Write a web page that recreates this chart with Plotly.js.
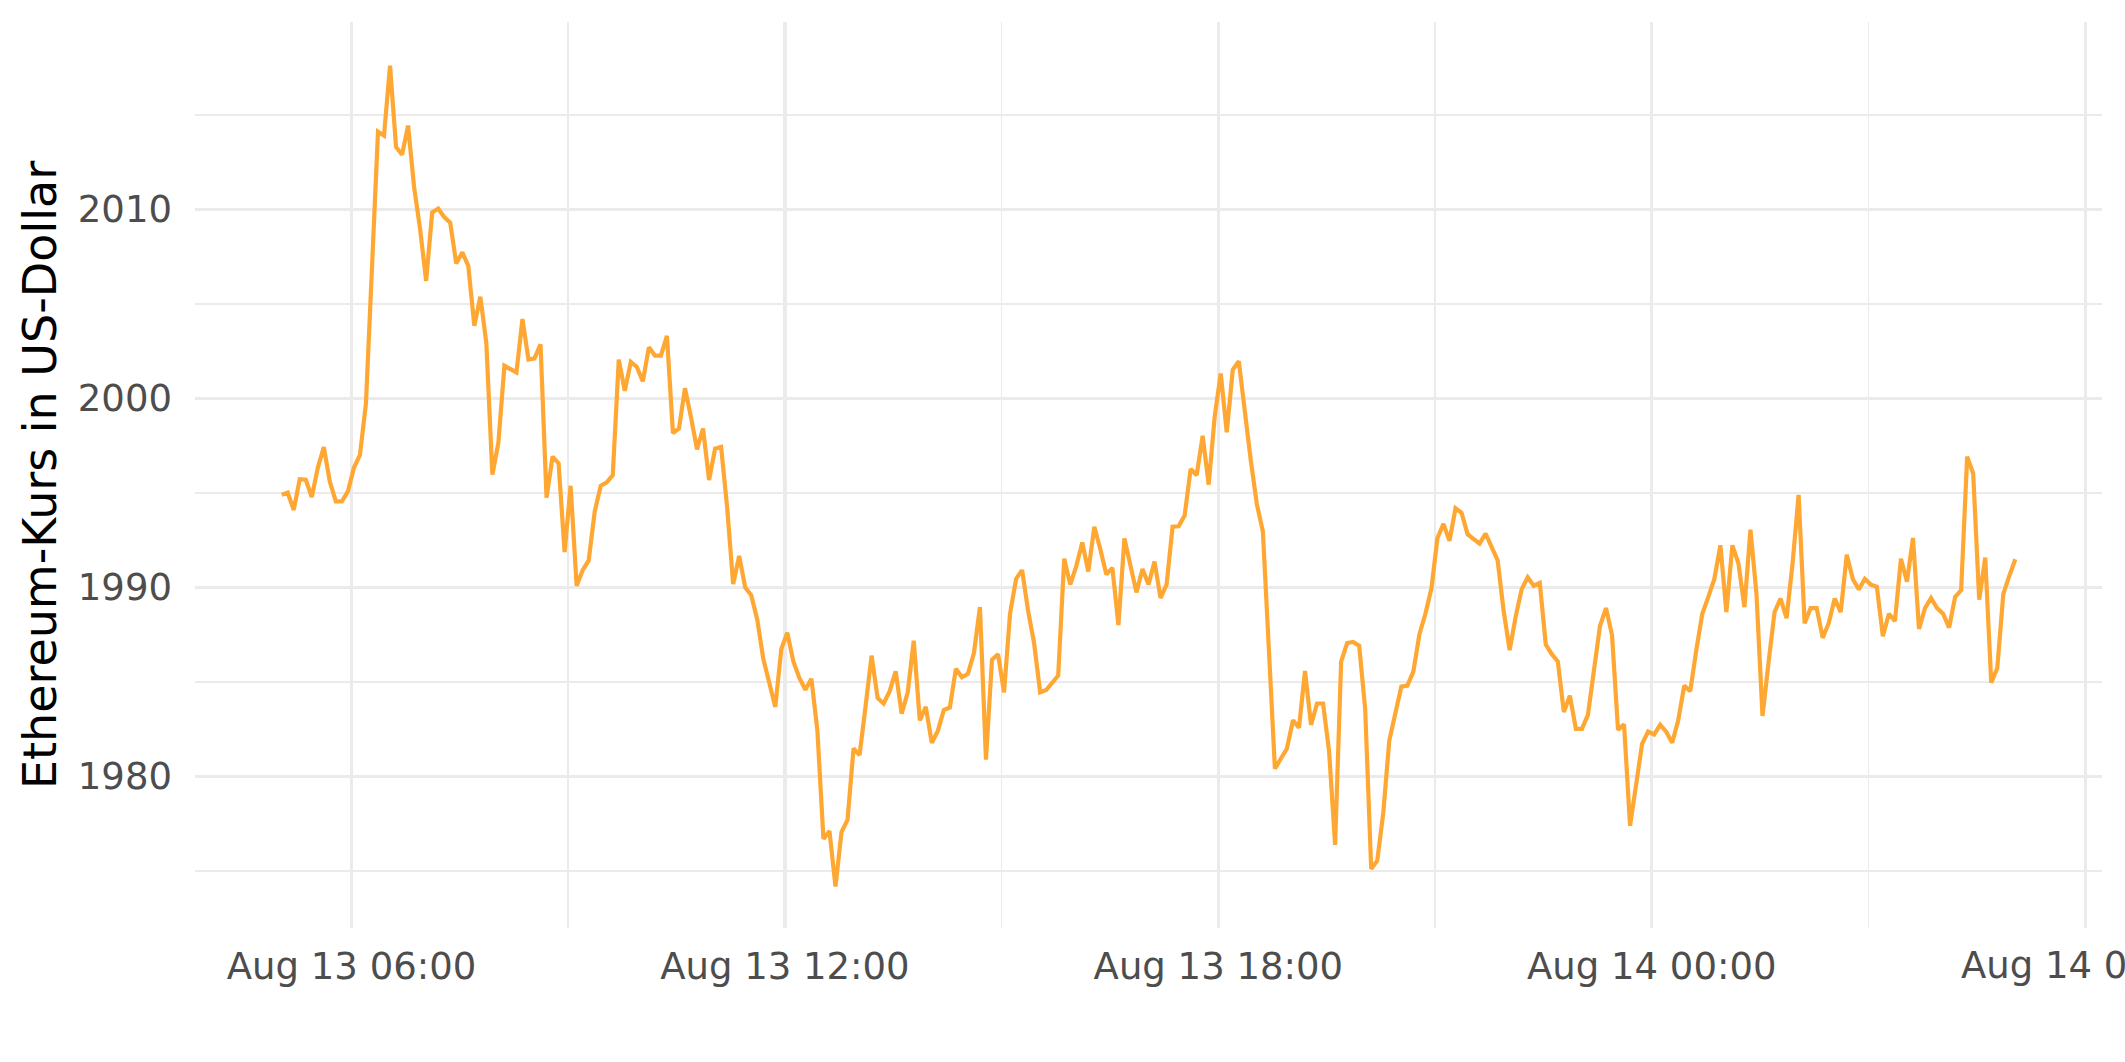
<!DOCTYPE html>
<html>
<head>
<meta charset="utf-8">
<script src="https://cdn.plot.ly/plotly-3.0.1.min.js"></script>
<style>
html, body { margin: 0; padding: 0; background: #ffffff; }
#chart { width: 2125px; height: 1062px; }
</style>
</head>
<body>
<div id="chart"></div>
<script>
// Sampling: one price every 5 minutes, starting 13 Aug 05:02
const seriesStart = '2022-08-13T05:02:00Z';
const intervalMinutes = 5;

// Ethereum price in US-Dollar
const ethPrice = [
  1994.89, 1995.00, 1994.09, 1995.72, 1995.69, 1994.77, 1996.32, 1997.42, 1995.58, 1994.54,
  1994.54, 1995.07, 1996.32, 1997.00, 1999.73, 2006.90, 2014.10, 2013.90, 2017.60, 2013.30,
  2012.89, 2014.43, 2011.16, 2008.94, 2006.21, 2009.83, 2010.04, 2009.59, 2009.29, 2007.13,
  2007.72, 2007.01, 2003.83, 2005.37, 2002.91, 1995.96, 1997.65, 2001.72, 2001.55, 2001.37,
  2004.19, 2002.05, 2002.11, 2002.85, 1994.74, 1996.91, 1996.56, 1991.86, 1995.37, 1990.08,
  1990.90,
  1991.42, 1994.00, 1995.37, 1995.55, 1995.93, 2002.05, 2000.39, 2001.93, 2001.66, 2000.89,
  2002.70, 2002.26, 2002.26, 2003.30, 1998.16, 1998.40, 2000.53, 1998.99, 1997.30, 1998.40,
  1995.67, 1997.33, 1997.42, 1994.24, 1990.17, 1991.66, 1989.99, 1989.58, 1988.30, 1986.22,
  1984.95, 1983.67, 1986.73, 1987.59, 1986.07, 1985.20, 1984.58, 1985.16, 1982.40, 1976.68,
  1977.10, 1974.16, 1977.05, 1977.69, 1981.47, 1981.12, 1983.70, 1986.38, 1984.14, 1983.85,
  1984.50, 1985.55, 1983.31, 1984.44, 1987.17, 1982.96, 1983.67, 1981.77, 1982.40, 1983.50,
  1983.64, 1985.69, 1985.24, 1985.42, 1986.52, 1988.95, 1980.88, 1986.16, 1986.46, 1984.44,
  1988.60, 1990.44, 1990.91, 1988.75, 1987.03, 1984.44, 1984.56, 1984.98, 1985.33, 1991.51,
  1990.14, 1991.12, 1992.37, 1990.83, 1993.20, 1992.01, 1990.68, 1991.03, 1988.00, 1992.58,
  1991.27, 1989.73, 1990.97, 1990.14, 1991.36, 1989.43, 1990.14, 1993.20, 1993.23, 1993.79,
  1996.26, 1995.93, 1998.01, 1995.43,
  1999.05, 2001.31, 1998.20, 2001.51, 2001.96, 1999.10, 1996.70, 1994.40, 1992.95, 1986.70,
  1980.40, 1980.94, 1981.47, 1982.96, 1982.57, 1985.57, 1982.72, 1983.85, 1983.85, 1981.32,
  1976.37, 1986.07, 1987.05, 1987.11, 1986.91, 1983.55, 1975.09, 1975.53, 1978.06, 1981.89,
  1983.25, 1984.74, 1984.80, 1985.54, 1987.50, 1988.60, 1989.93, 1992.61, 1993.35, 1992.46,
  1994.18, 1993.94, 1992.81, 1992.55, 1992.31, 1992.84, 1992.10, 1991.42, 1988.75, 1986.67,
  1988.45, 1989.90,
  1990.53, 1990.08, 1990.23, 1986.97, 1986.46, 1986.07, 1983.40, 1984.26, 1982.51, 1982.51,
  1983.25, 1985.63, 1987.95, 1988.90, 1987.47, 1982.45, 1982.75, 1977.38, 1979.39, 1981.71,
  1982.36, 1982.21, 1982.72, 1982.36, 1981.77, 1982.96, 1984.80, 1984.50, 1986.67, 1988.60,
  1989.49, 1990.44, 1992.22, 1988.69, 1992.22, 1991.27, 1988.95, 1993.05, 1989.64, 1983.19,
  1986.00, 1988.69, 1989.40, 1988.36, 1991.27, 1994.89, 1988.09, 1988.90, 1988.90, 1987.32,
  1988.10,
  1989.40, 1988.69, 1991.72, 1990.44, 1989.88, 1990.44, 1990.14, 1990.02, 1987.41, 1988.60,
  1988.21, 1991.51, 1990.29, 1992.61, 1987.80, 1988.90, 1989.43, 1988.90, 1988.60, 1987.86,
  1989.49, 1989.85, 1996.91, 1996.02, 1989.34, 1991.57, 1984.95, 1985.72, 1989.64, 1990.60,
  1991.48
];

// Axis ticks
const xTickVals = ['2022-08-13 06:00', '2022-08-13 12:00', '2022-08-13 18:00', '2022-08-14 00:00', '2022-08-14 06:00'];
const xTickText = ['Aug 13 06:00', 'Aug 13 12:00', 'Aug 13 18:00', 'Aug 14 00:00', 'Aug 14 06:00'];
const xMinorVals = ['2022-08-13 09:00', '2022-08-13 15:00', '2022-08-13 21:00', '2022-08-14 03:00'];
const xRange = ['2022-08-13 03:50', '2022-08-14 06:14'];
const yTickVals = [1980, 1990, 2000, 2010];
const yTickText = ['1980', '1990', '2000', '2010'];
const yMinorVals = [1975, 1985, 1995, 2005, 2015];
const yRange = [1971.97, 2019.91];
const yTitle = 'Ethereum-Kurs in US-Dollar';

function fmtTime(ms) {
  return new Date(ms).toISOString().slice(0, 19).replace('T', ' ');
}
const t0 = Date.parse(seriesStart);
const times = ethPrice.map((_, i) => fmtTime(t0 + i * intervalMinutes * 60000));

const grid = '#EBEBEB';
const tickFont = { family: 'DejaVu Sans, sans-serif', size: 37, color: '#4D4D4D' };

// The last x label runs past the right edge of the picture (as in the reference);
// Plotly would drop it, so it is drawn as an annotation at its tick and clipped by the page edge.
const lastIdx = xTickVals.length - 1;
const shownTickText = xTickText.map((t, i) => (i === lastIdx ? '' : t));

const trace = {
  type: 'scatter',
  mode: 'lines',
  x: times,
  y: ethPrice,
  line: { color: '#FFA733', width: 4.2 },
  hoverinfo: 'skip'
};

const layout = {
  width: 2125,
  height: 1062,
  margin: { l: 195, r: 23, t: 22, b: 134, pad: 0 },
  paper_bgcolor: '#ffffff',
  plot_bgcolor: '#ffffff',
  showlegend: false,
  xaxis: {
    type: 'date',
    range: xRange,
    tickmode: 'array',
    tickvals: xTickVals,
    ticktext: shownTickText,
    ticks: '',
    showline: false,
    zeroline: false,
    showgrid: true,
    gridcolor: grid,
    gridwidth: 3.2,
    tickfont: tickFont,
    ticklabelstandoff: 13,
    minor: { tickvals: xMinorVals, showgrid: true, gridcolor: grid, gridwidth: 1.6, ticks: '' }
  },
  yaxis: {
    range: yRange,
    tickmode: 'array',
    tickvals: yTickVals,
    ticktext: yTickText,
    ticks: '',
    showline: false,
    zeroline: false,
    showgrid: true,
    gridcolor: grid,
    gridwidth: 3.2,
    tickfont: tickFont,
    ticklabelstandoff: 22,
    minor: { tickvals: yMinorVals, showgrid: true, gridcolor: grid, gridwidth: 1.6, ticks: '' },
    title: { text: yTitle, font: { family: 'DejaVu Sans, sans-serif', size: 46, color: '#000000' }, standoff: 6 }
  },
  annotations: [{
    xref: 'x', yref: 'paper',
    x: xTickVals[lastIdx], y: 0,
    xanchor: 'center', yanchor: 'top',
    yshift: -14,
    showarrow: false,
    text: xTickText[lastIdx],
    font: tickFont
  }]
};

Plotly.newPlot('chart', [trace], layout, { staticPlot: true, displayModeBar: false });
</script>
</body>
</html>
